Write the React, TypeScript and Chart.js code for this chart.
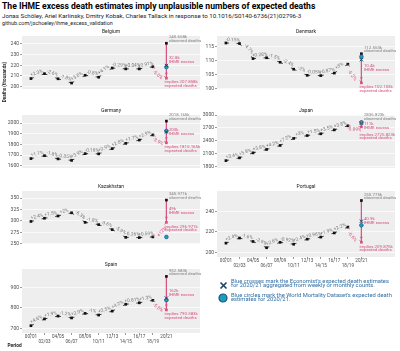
import React, { useEffect, useRef } from "react";
import { Chart, registerables } from "chart.js";

Chart.register(...registerables);

const FONT = "Roboto, 'Liberation Sans', sans-serif";
const BG = "#eeeeee";
const PINK = "#d9507f";
const NAVY = "#1d4466";
const TEAL = "#1f9ac0";
const TEAL_DARK = "#155a78";
const GREY_TXT = "#808080";

// ---------------- data ----------------
const periods = ["00/01", "02/03", "04/05", "06/07", "08/09", "10/11", "12/13", "14/15", "16/17", "18/19", "20/21"];

const belgiumDeaths = [207.5, 212.1, 207.3, 203.3, 210.6, 208.8, 217.4, 216.6, 216.6, 218.6];
const belgiumChange = ["+2.3%", "-2.6%", "-1.8%", "+3.6%", "-0.8%", "+4.1%", "-0.29%", "+0.04%", "+0.91%", "-5.0%"];
const belgium2021 = [240.658, 207.858]; // observed, implied expected
const belgiumExcess = "32.8k";
const belgiumBlue = [219.8, 218.3]; // Economist, WMD
const belgiumTicks = [200, 210, 220, 230, 240];

const denmarkDeaths = [116.4, 116.2, 110.8, 111.1, 109.5, 107.0, 104.8, 104.7, 105.6, 108.8];
const denmarkChange = ["-0.15%", "-4.7%", "+0.28%", "-1.5%", "-2.4%", "-2%", "-0.05%", "+0.87%", "+3%", "-6.2%"];
const denmark2021 = [112.553, 102.103];
const denmarkExcess = "10.4k";
const denmarkBlue = [110.4, 111.5];
const denmarkTicks = [100, 105, 110, 115];

const germanyDeaths = [1668, 1695, 1665, 1651, 1714, 1712, 1761, 1810, 1841, 1889];
const germanyChange = ["+1.7%", "-1.8%", "-0.85%", "+3.9%", "-0.18%", "+2.9%", "+2.8%", "+1.7%", "+2.9%", "-3.9%"];
const germany2021 = [2018.165, 1815.165];
const germanyExcess = "203k";
const germanyBlue = [1916, 1926];
const germanyTicks = [1600, 1700, 1800, 1900, 2000];

const japanDeaths = [1935, 2000, 2117, 2196, 2290, 2455, 2522, 2563, 2655, 2750];
const japanChange = ["+3.4%", "+5.8%", "+3.8%", "+4.2%", "+7.2%", "+3%", "+1.5%", "+3.5%", "+3.8%", "-0.89%"];
const japan2021 = [2836.823, 2725.823];
const japanExcess = "111k";
const japanBlue = [2812, 2828];
const japanTicks = [1800, 2100, 2400, 2700, 3000];

const kazakhstanDeaths = [299, 306, 311, 318, 297, 292, 281, 264, 263.5, 265];
const kazakhstanChange = ["+2.4%", "+1.5%", "+2%", "-6.3%", "-1.8%", "-3.6%", "-5.9%", "-0.26%", "+0.59%", "+12%"];
const kazakhstan2021 = [345.971, 296.971];
const kazakhstanExcess = "49k";
const kazakhstanBlue = [null, 264.8];
const kazakhstanTicks = [250, 275, 300, 325, 350];

const portugalDeaths = [209, 214, 210.6, 204.5, 209.8, 207.9, 212.9, 214.9, 219, 224.7];
const portugalChange = ["+2.4%", "-1.6%", "-2.9%", "+2.6%", "-0.92%", "+2.4%", "+0.96%", "+1.9%", "+2.2%", "-6.6%"];
const portugal2021 = [250.775, 209.875];
const portugalExcess = "40.9k";
const portugalBlue = [230.5, 226.5];
const portugalTicks = [200, 220, 240];

const spainDeaths = [714.5, 747, 761, 752, 774, 766, 785, 818, 825, 837];
const spainChange = ["+4.6%", "+1.9%", "-1.2%", "+2.9%", "-1%", "+2.5%", "+4.2%", "+0.81%", "+1.3%", "-5.8%"];
const spain2021 = [952.583, 790.583];
const spainExcess = "162k";
const spainBlue = [848, 838];
const spainTicks = [700, 800, 900];

// ---------------- panels (data + layout) ----------------
type Panel = {
  name: string;
  deaths: number[];
  change: string[];
  y2021: number[];
  excess: string;
  blue: (number | null)[];
  ticks: number[];
  yMin: number;
  yMax: number;
  col: number;
  top: number;
  bottom: number;
  xAxis?: boolean;
  yTitle?: boolean;
  xTitle?: boolean;
  nudge?: { obs: number; exc: number; imp: number };
};

const panels: Panel[] = [
  { name: "Belgium", deaths: belgiumDeaths, change: belgiumChange, y2021: belgium2021, excess: belgiumExcess, blue: belgiumBlue, ticks: belgiumTicks, yMin: 197.7, yMax: 247.5, col: 0, top: 36, bottom: 102, yTitle: true },
  { name: "Denmark", deaths: denmarkDeaths, change: denmarkChange, y2021: denmark2021, excess: denmarkExcess, blue: denmarkBlue, ticks: denmarkTicks, yMin: 99.9, yMax: 118.9, col: 1, top: 36, bottom: 102 },
  { name: "Germany", deaths: germanyDeaths, change: germanyChange, y2021: germany2021, excess: germanyExcess, blue: germanyBlue, ticks: germanyTicks, yMin: 1580, yMax: 2075, col: 0, top: 115, bottom: 181 },
  { name: "Japan", deaths: japanDeaths, change: japanChange, y2021: japan2021, excess: japanExcess, blue: japanBlue, ticks: japanTicks, yMin: 1762, yMax: 3003, col: 1, top: 115, bottom: 181, nudge: { obs: -1, exc: 1.5, imp: 3.5 } },
  { name: "Kazakhstan", deaths: kazakhstanDeaths, change: kazakhstanChange, y2021: kazakhstan2021, excess: kazakhstanExcess, blue: kazakhstanBlue, ticks: kazakhstanTicks, yMin: 249.4, yMax: 365.9, col: 0, top: 191, bottom: 257 },
  { name: "Portugal", deaths: portugalDeaths, change: portugalChange, y2021: portugal2021, excess: portugalExcess, blue: portugalBlue, ticks: portugalTicks, yMin: 195.4, yMax: 260.1, col: 1, top: 191, bottom: 257, xAxis: true },
  { name: "Spain", deaths: spainDeaths, change: spainChange, y2021: spain2021, excess: spainExcess, blue: spainBlue, ticks: spainTicks, yMin: 679.2, yMax: 988.4, col: 0, top: 269, bottom: 333, xAxis: true, xTitle: true },
];

const PAD_TOP = 10;
const X_AXIS_H = 13;

function boxOf(p: Panel) {
  const x = p.col === 0 ? 0 : 195;
  const w = p.col === 0 ? 214 : 205;
  const rightPad = p.col === 0 ? 14 : 4;
  const y = p.top - PAD_TOP;
  let padBottom = 10;
  if (p.xTitle) padBottom = 351 - (p.bottom + X_AXIS_H);
  else if (p.xAxis) padBottom = 2;
  const h = PAD_TOP + (p.bottom - p.top) + (p.xAxis ? X_AXIS_H : 0) + padBottom;
  return { x, y, w, h, rightPad, padBottom };
}

function pathLabel(ctx: CanvasRenderingContext2D, a: number[], b: number[], text: string, color: string, side: number) {
  const dx = b[0] - a[0];
  const dy = b[1] - a[1];
  const len = Math.hypot(dx, dy);
  const ang = Math.atan2(dy, dx);
  ctx.save();
  ctx.translate((a[0] + b[0]) / 2, (a[1] + b[1]) / 2);
  ctx.rotate(ang);
  const gap = Math.max(len - 6, 0);
  ctx.fillStyle = BG;
  ctx.fillRect(-gap / 2, -1.1, gap, 2.2);
  ctx.fillStyle = color;
  ctx.font = `4.8px ${FONT}`;
  ctx.textAlign = "center";
  ctx.textBaseline = "middle";
  ctx.fillText(text, 0, side * 3.2);
  ctx.restore();
}

function panelPlugin(p: Panel) {
  return {
    id: "panelDeco" + p.name,
    beforeDraw(chart: any) {
      const { ctx, chartArea: a } = chart;
      ctx.save();
      ctx.fillStyle = BG;
      ctx.fillRect(a.left, a.top, a.right - a.left, a.bottom - a.top);
      ctx.fillStyle = "#1a1a1a";
      ctx.font = `5px ${FONT}`;
      ctx.textAlign = "center";
      ctx.textBaseline = "middle";
      ctx.fillText(p.name, (a.left + a.right) / 2, a.top - 4);
      if (p.yTitle) {
        ctx.save();
        ctx.translate(5, 56);
        ctx.rotate(-Math.PI / 2);
        ctx.font = `bold 4.6px ${FONT}`;
        ctx.fillText("Deaths (thousands)", 0, 0);
        ctx.restore();
      }
      if (p.xTitle) {
        ctx.font = `bold 4.8px ${FONT}`;
        ctx.textAlign = "left";
        ctx.fillText("Period", 7.5, 346 - (p.top - PAD_TOP));
      }
      ctx.restore();
    },
    afterDatasetsDraw(chart: any) {
      const { ctx } = chart;
      const xs = chart.scales.x;
      const ys = chart.scales.y;
      const last = p.deaths.length;
      const pts = p.deaths.map((v, i) => [xs.getPixelForValue(i), ys.getPixelForValue(v)]);
      const exp = [xs.getPixelForValue(last), ys.getPixelForValue(p.y2021[1])];
      pts.push(exp);
      p.change.forEach((t, i) => {
        const pink = i === p.change.length - 1;
        pathLabel(ctx, pts[i], pts[i + 1], t, pink ? PINK : "#777777", pink ? 1 : -1);
      });
      // arrow head on excess line
      ctx.save();
      ctx.fillStyle = PINK;
      ctx.beginPath();
      ctx.moveTo(exp[0], exp[1] - 2.5);
      ctx.lineTo(exp[0] - 1.3, exp[1] - 5.5);
      ctx.lineTo(exp[0] + 1.3, exp[1] - 5.5);
      ctx.closePath();
      ctx.fill();
      ctx.restore();
    },
    afterDraw(chart: any) {
      const { ctx } = chart;
      const xs = chart.scales.x;
      const ys = chart.scales.y;
      const last = p.deaths.length;
      const px = xs.getPixelForValue(last);
      const oy = ys.getPixelForValue(p.y2021[0]);
      const ey = ys.getPixelForValue(p.y2021[1]);
      const n = p.nudge || { obs: 0, exc: 0, imp: 0 };
      ctx.save();
      ctx.font = `4.4px ${FONT}`;
      ctx.textAlign = "left";
      ctx.textBaseline = "middle";
      ctx.fillStyle = GREY_TXT;
      ctx.fillText(`${p.y2021[0]}k`, px + 2.5, oy - 6 + n.obs);
      ctx.fillText("observed deaths", px + 2.5, oy - 2.3 + n.obs);
      ctx.fillStyle = PINK;
      const mid = (oy + ey) / 2;
      ctx.fillText(p.excess, px + 2.5, mid - 2.4 + n.exc);
      ctx.fillText("IHME excess", px + 2.5, mid + 1.5 + n.exc);
      ctx.fillText(`implies ${p.y2021[1]}k`, px - 2, ey + 4.2 + n.imp);
      ctx.fillText("expected deaths", px - 2, ey + 8 + n.imp);
      ctx.restore();
    },
  };
}

function buildConfig(p: Panel) {
  const box = boxOf(p);
  const last = p.deaths.length;
  const hist = p.deaths.map((v, i) => ({ x: i, y: v }));
  const datasets: any[] = [
    { data: p.blue[0] == null ? [] : [{ x: last, y: p.blue[0] }], pointStyle: "crossRot", pointRadius: 2.3, borderColor: NAVY, pointBorderWidth: 1, showLine: false, order: 0 },
    { data: p.blue[1] == null ? [] : [{ x: last, y: p.blue[1] }], pointStyle: "circle", pointRadius: 1.9, backgroundColor: TEAL, borderColor: TEAL_DARK, pointBorderWidth: 0.6, showLine: false, order: 1 },
    { data: [{ x: last, y: p.y2021[0] }], pointStyle: "rect", pointRadius: 1.9, backgroundColor: "#111111", pointBorderWidth: 0, showLine: false, order: 2 },
    { data: [{ x: last - 1, y: p.deaths[last - 1] }, { x: last, y: p.y2021[1] }], showLine: true, borderColor: PINK, borderWidth: 0.7, pointStyle: "rect", pointRadius: [0, 1.9], backgroundColor: PINK, pointBorderWidth: 0, order: 3 },
    { data: hist, showLine: true, borderColor: "#111111", borderWidth: 0.8, pointStyle: "rect", pointRadius: 1.9, backgroundColor: "#111111", pointBorderWidth: 0, order: 4 },
    { data: [{ x: last, y: p.y2021[0] }, { x: last, y: p.y2021[1] }], showLine: true, borderColor: PINK, borderWidth: 0.8, pointRadius: 0, order: 5 },
  ];
  const tickFont = { family: FONT, size: 5 };
  return {
    type: "scatter",
    data: { datasets },
    options: {
      animation: false,
      responsive: false,
      maintainAspectRatio: false,
      devicePixelRatio: 1,
      events: [],
      layout: { padding: { top: PAD_TOP, right: box.rightPad, bottom: box.padBottom, left: 0 } },
      plugins: { legend: { display: false }, tooltip: { enabled: false }, title: { display: false } },
      scales: {
        x: {
          type: "linear",
          min: -0.66,
          max: 12.48,
          display: !!p.xAxis,
          border: { display: false },
          grid: { display: true, drawOnChartArea: false, color: "rgba(0,0,0,0)", tickColor: "#555555", tickLength: 2, tickWidth: 0.6 },
          afterBuildTicks: (s: any) => {
            s.ticks = periods.map((_, i) => ({ value: i }));
          },
          afterFit: (s: any) => {
            s.height = X_AXIS_H;
          },
          ticks: {
            autoSkip: false,
            maxRotation: 0,
            minRotation: 0,
            padding: 0,
            color: "#4d4d4d",
            font: { family: FONT, size: 4.6, lineHeight: 1 },
            callback: (_v: any, i: number) => (i % 2 === 0 ? periods[i] : ["", periods[i]]),
          },
        },
        y: {
          type: "linear",
          min: p.yMin,
          max: p.yMax,
          border: { display: false },
          grid: { color: "#ffffff", lineWidth: 0.7, tickColor: "#555555", tickLength: 2, tickWidth: 0.6 },
          afterBuildTicks: (s: any) => {
            s.ticks = p.ticks.map((v) => ({ value: v }));
          },
          afterFit: (s: any) => {
            s.width = 22;
          },
          ticks: { padding: 1, color: "#4d4d4d", font: tickFont, callback: (v: any) => String(v) },
        },
      },
    },
    plugins: [panelPlugin(p)],
  } as any;
}

function CrossIcon() {
  return (
    <svg width="9" height="9" viewBox="0 0 9 9" style={{ display: "block" }}>
      <line x1="1.5" y1="1.5" x2="7.5" y2="7.5" stroke={NAVY} strokeWidth="1.6" />
      <line x1="7.5" y1="1.5" x2="1.5" y2="7.5" stroke={NAVY} strokeWidth="1.6" />
    </svg>
  );
}

function CircleIcon() {
  return (
    <svg width="10" height="10" viewBox="0 0 10 10" style={{ display: "block" }}>
      <circle cx="5" cy="5" r="4" fill={TEAL} stroke={TEAL_DARK} strokeWidth="1.2" />
    </svg>
  );
}

export default function App() {
  const refs = useRef<(HTMLCanvasElement | null)[]>([]);
  useEffect(() => {
    const charts = panels.map((p, i) => new Chart(refs.current[i] as HTMLCanvasElement, buildConfig(p)));
    return () => charts.forEach((c) => c.destroy());
  }, []);

  const legendText: React.CSSProperties = { position: "absolute", left: 231, fontSize: 5.8, lineHeight: "4.8px", color: "#2f6ea5", whiteSpace: "nowrap", fontFamily: FONT };

  return (
    <div style={{ position: "absolute", left: 0, top: 0, width: 400, height: 351, background: "#ffffff", overflow: "hidden", fontFamily: FONT }}>
      <div style={{ position: "absolute", left: 2, top: 1, fontSize: 8.6, fontWeight: 700, lineHeight: "11px", whiteSpace: "nowrap", color: "#000" }}>
        The IHME excess death estimates imply unplausible numbers of expected deaths
      </div>
      <div style={{ position: "absolute", left: 2, top: 12.5, fontSize: 6.2, lineHeight: "7px", whiteSpace: "nowrap", color: "#1a1a1a" }}>
        Jonas Schöley, Ariel Karlinsky, Dmitry Kobak, Charles Tallack in response to 10.1016/S0140-6736(21)02796-3
      </div>
      <div style={{ position: "absolute", left: 2, top: 19.5, fontSize: 5.4, lineHeight: "6px", whiteSpace: "nowrap", color: "#1a1a1a" }}>
        github.com/jschoeley/ihme_excess_validation
      </div>
      {panels.map((p, i) => {
        const b = boxOf(p);
        return (
          <canvas
            key={p.name}
            ref={(el) => {
              refs.current[i] = el;
            }}
            width={b.w}
            height={b.h}
            style={{ position: "absolute", left: b.x, top: b.y, width: b.w, height: b.h }}
          />
        );
      })}
      <div style={{ position: "absolute", left: 218.5, top: 281 }}>
        <CrossIcon />
      </div>
      <div style={{ ...legendText, top: 278.6 }}>
        Blue crosses mark the Economist's expected death estimates
        <br />
        for 2020/21 aggregated from weekly or monthly counts.
      </div>
      <div style={{ position: "absolute", left: 218, top: 293 }}>
        <CircleIcon />
      </div>
      <div style={{ ...legendText, top: 292.6 }}>
        Blue circles mark the World Mortality Dataset's expected death
        <br />
        estimates for 2020/21.
      </div>
    </div>
  );
}
